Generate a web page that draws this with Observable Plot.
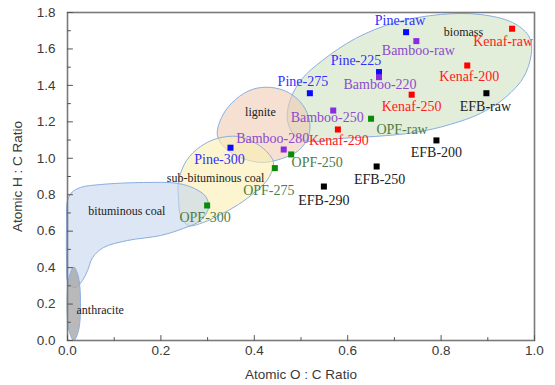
<!DOCTYPE html>
<html><head><meta charset="utf-8">
<script src="https://cdn.jsdelivr.net/npm/d3@7"></script>
<script src="https://cdn.jsdelivr.net/npm/@observablehq/plot@0.6"></script>
<style>body{margin:0;background:#fff} #chart{width:555px;height:385px}</style>
</head><body><div id="chart"></div>
<script>
// ---- data (atomic O:C, atomic H:C) ----
const pineNames = ["Pine-raw", "Pine-225", "Pine-275", "Pine-300"];
const pineOC = [0.725, 0.667, 0.519, 0.349];
const pineHC = [1.692, 1.473, 1.357, 1.058];

const bambooNames = ["Bamboo-raw", "Bamboo-220", "Bamboo-250", "Bamboo-280"];
const bambooOC = [0.747, 0.667, 0.569, 0.463];
const bambooHC = [1.643, 1.445, 1.262, 1.048];

const kenafNames = ["Kenaf-raw", "Kenaf-200", "Kenaf-250", "Kenaf-290"];
const kenafOC = [0.952, 0.856, 0.737, 0.579];
const kenafHC = [1.711, 1.509, 1.349, 1.158];

const opfNames = ["OPF-raw", "OPF-250", "OPF-275", "OPF-300"];
const opfOC = [0.650, 0.479, 0.444, 0.299];
const opfHC = [1.217, 1.021, 0.946, 0.741];

const efbNames = ["EFB-raw", "EFB-200", "EFB-250", "EFB-290"];
const efbOC = [0.897, 0.790, 0.662, 0.549];
const efbHC = [1.357, 1.098, 0.955, 0.845];

// fuel regions (outline vertices, O:C , H:C)
const biomassOutline = [[0.994,1.603],[0.979,1.455],[0.938,1.334],[0.884,1.246],[0.820,1.186],[0.745,1.142],[0.660,1.120],[0.585,1.109],[0.520,1.092],[0.488,1.120],[0.471,1.208],[0.478,1.328],[0.503,1.438],[0.546,1.537],[0.617,1.658],[0.702,1.745],[0.799,1.789],[0.884,1.789],[0.953,1.745],[0.987,1.674]];
const ligniteOutline = [[0.321,1.125],[0.332,1.235],[0.360,1.323],[0.396,1.378],[0.435,1.389],[0.473,1.361],[0.503,1.295],[0.518,1.208],[0.516,1.120],[0.495,1.043],[0.460,0.999],[0.418,0.977],[0.375,0.999],[0.341,1.048]];
const subBitOutline = [[0.238,0.768],[0.238,0.878],[0.255,0.988],[0.285,1.065],[0.321,1.109],[0.364,1.120],[0.396,1.092],[0.424,1.043],[0.441,0.977],[0.430,0.889],[0.403,0.818],[0.366,0.746],[0.328,0.692],[0.291,0.648],[0.259,0.631],[0.242,0.686]];
const bitOutline = [[0.000,0.768],[0.009,0.812],[0.028,0.840],[0.071,0.856],[0.163,0.867],[0.236,0.862],[0.272,0.834],[0.296,0.790],[0.302,0.730],[0.285,0.659],[0.248,0.615],[0.199,0.576],[0.129,0.549],[0.077,0.510],[0.054,0.456],[0.043,0.384],[0.032,0.329],[0.017,0.291],[0.002,0.313],[-0.002,0.439],[-0.002,0.631]];
const anthraciteOutline = [[0.0135,0.403],[0.0236,0.346],[0.0278,0.201],[0.0236,0.055],[0.0135,0.000],[0.0032,0.055],[-0.0009,0.201],[0.0032,0.346]];

const regionNames = ["biomass", "lignite", "sub-bituminous coal", "bituminous coal", "anthracite"];
const regionLabelOC = [0.848, 0.413, 0.317, 0.127, 0.070];
const regionLabelHC = [1.690, 1.253, 0.891, 0.710, 0.165];

const xMajor = [0, 0.2, 0.4, 0.6, 0.8, 1.0];
const xMinor = [0.1, 0.3, 0.5, 0.7, 0.9];
const yMajor = [0, 0.2, 0.4, 0.6, 0.8, 1.0, 1.2, 1.4, 1.6, 1.8];
const yMinor = [0.1, 0.3, 0.5, 0.7, 0.9, 1.1, 1.3, 1.5, 1.7];

// ---- layout / style ----
const labelOffsets = {
  "Pine-raw": [-6, -12], "Pine-225": [-23, -12], "Pine-275": [-7, -12], "Pine-300": [-11, 12],
  "Bamboo-raw": [2, 9], "Bamboo-220": [1, 7], "Bamboo-250": [-6, 7], "Bamboo-280": [-11, -11],
  "Kenaf-raw": [-9, 13], "Kenaf-200": [2, 11], "Kenaf-250": [0, 12], "Kenaf-290": [1, 11],
  "OPF-raw": [31, 11], "OPF-250": [26, 8], "OPF-275": [-6, 22], "OPF-300": [-2, 12],
  "EFB-raw": [-1, 13], "EFB-200": [0, 12], "EFB-250": [3, 13], "EFB-290": [0, 14]
};
const series = [
  {names: pineNames, oc: pineOC, hc: pineHC, dot: "#0a0aff", text: "#3030ff"},
  {names: bambooNames, oc: bambooOC, hc: bambooHC, dot: "#8a2be2", text: "#8c4ccc"},
  {names: kenafNames, oc: kenafOC, hc: kenafHC, dot: "#ff0000", text: "#ff1a1a"},
  {names: opfNames, oc: opfOC, hc: opfHC, dot: "#0a8a0a", text: "#4d7d45"},
  {names: efbNames, oc: efbOC, hc: efbHC, dot: "#000000", text: "#222222"}
];
const points = series.flatMap(s => s.names.map((n, i) => ({name: n, oc: s.oc[i], hc: s.hc[i], dot: s.dot, text: s.text})));

const regions = [
  {outline: biomassOutline, fill: "#cfe3bf", op: 0.6},
  {outline: ligniteOutline, fill: "#eecbb4", op: 0.6},
  {outline: subBitOutline, fill: "#fcefb0", op: 0.6},
  {outline: bitOutline, fill: "#c4d5ee", op: 0.6},
  {outline: anthraciteOutline, fill: "#a8a8a8", op: 0.8}
];

const serif = "'Liberation Serif', 'Times New Roman', serif";
const sans = "'Liberation Sans', Arial, sans-serif";

const tickUp = {draw(c, l) { c.moveTo(0, 0); c.lineTo(0, -l); }};
const tickRight = {draw(c, l) { c.moveTo(0, 0); c.lineTo(l, 0); }};

const marks = [
  ...regions.map(r => Plot.line(r.outline, {x: d => d[0], y: d => d[1], curve: "catmull-rom-closed",
     fill: r.fill, fillOpacity: r.op, stroke: "#8aaee0", strokeWidth: 1})),
  Plot.text(regionNames, {x: (d, i) => regionLabelOC[i], y: (d, i) => regionLabelHC[i], text: d => d,
     fontFamily: serif, fontSize: 12, fill: "#222"}),
  Plot.dot(points, {x: "oc", y: "hc", symbol: "square", r: 3.4, fill: d => d.dot, stroke: null}),
  ...points.map(p => Plot.text([p], {x: "oc", y: "hc", text: "name", dx: labelOffsets[p.name][0], dy: labelOffsets[p.name][1],
     fill: p.text, fontFamily: serif, fontSize: 14})),
  Plot.frame({stroke: "#7a7a7a", strokeWidth: 1.6}),
  Plot.vectorX(xMinor, {x: d => d, frameAnchor: "bottom", length: 3, anchor: "start", shape: tickUp, stroke: "#555", strokeWidth: 1}),
  Plot.vectorX(xMajor, {x: d => d, frameAnchor: "bottom", length: 5, anchor: "start", shape: tickUp, stroke: "#555", strokeWidth: 1}),
  Plot.vectorY(yMinor, {y: d => d, frameAnchor: "left", length: 3, anchor: "start", shape: tickRight, stroke: "#555", strokeWidth: 1}),
  Plot.vectorY(yMajor, {y: d => d, frameAnchor: "left", length: 5, anchor: "start", shape: tickRight, stroke: "#555", strokeWidth: 1}),
  Plot.axisX({ticks: xMajor, tickSize: 0, tickPadding: 5, tickFormat: d3.format(".1f"), fill: "#3a3a3a",
     label: "Atomic O : C Ratio", labelAnchor: "center", labelArrow: "none", labelOffset: 38}),
  Plot.axisY({ticks: yMajor, tickSize: 0, tickPadding: 12, tickFormat: d3.format(".1f"), fill: "#3a3a3a",
     label: "Atomic H : C Ratio", labelAnchor: "center", labelArrow: "none", labelOffset: 55})
];

const chart = Plot.plot({
  width: 555, height: 385,
  marginLeft: 67, marginRight: 21, marginTop: 12, marginBottom: 45,
  style: {fontFamily: sans, fontSize: "13.5px", color: "#333", background: "#fff"},
  x: {domain: [0, 1]},
  y: {domain: [0, 1.8]},
  marks
});
document.getElementById("chart").appendChild(chart);
</script>
</body></html>
